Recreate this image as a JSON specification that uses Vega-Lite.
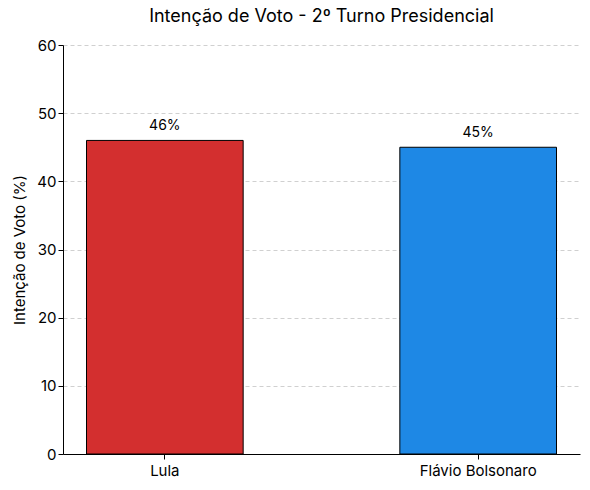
{
  "$schema": "https://vega.github.io/schema/vega-lite/v6.json",
  "description": "Intenção de voto no 2º turno presidencial.",
  "autosize": "none",
  "padding": {"left": 63, "top": 45, "right": 10, "bottom": 36},
  "width": 517,
  "height": 409,
  "data": {
    "values": [
      {"candidato": "Lula", "voto": 46, "rotulo": "46%"},
      {"candidato": "Flávio Bolsonaro", "voto": 45, "rotulo": "45%"}
    ]
  },
  "title": {
    "text": "Intenção de Voto - 2º Turno Presidencial",
    "font": "Inter",
    "fontSize": 18,
    "fontWeight": "normal",
    "color": "black",
    "anchor": "middle",
    "offset": 12
  },
  "encoding": {
    "x": {
      "field": "candidato",
      "type": "nominal",
      "sort": null,
      "title": null,
      "scale": {"paddingInner": 0.5, "paddingOuter": 0.075},
      "axis": {"labelAngle": 0, "labelFontSize": 15, "labelColor": "black", "labelFont": "Inter", "domainColor": "black", "tickColor": "black", "tickSize": 5, "labelPadding": 4}
    },
    "y": {
      "field": "voto",
      "type": "quantitative",
      "title": "Intenção de Voto (%)",
      "scale": {"domain": [0, 60]},
      "axis": {
        "values": [0, 10, 20, 30, 40, 50, 60],
        "labelFontSize": 15, "labelColor": "black", "labelFont": "Inter",
        "titleFont": "Inter", "titleFontSize": 15, "titleFontWeight": "normal", "titleColor": "black", "titlePadding": 9,
        "domainColor": "black", "tickColor": "black", "tickSize": 5,
        "gridColor": "#c4c4c4", "gridDash": [4, 3], "gridWidth": 0.8
      }
    }
  },
  "layer": [
    {
      "mark": {"type": "bar", "stroke": "black", "strokeWidth": 1},
      "encoding": {
        "color": {
          "field": "candidato",
          "type": "nominal",
          "scale": {"domain": ["Lula", "Flávio Bolsonaro"], "range": ["#d32f2f", "#1e88e5"]},
          "legend": null
        }
      }
    },
    {
      "mark": {"type": "text", "baseline": "bottom", "dy": -7, "fontSize": 14, "font": "Inter", "color": "black"},
      "encoding": {"text": {"field": "rotulo"}}
    }
  ],
  "config": {
    "view": {"stroke": null}
  }
}
